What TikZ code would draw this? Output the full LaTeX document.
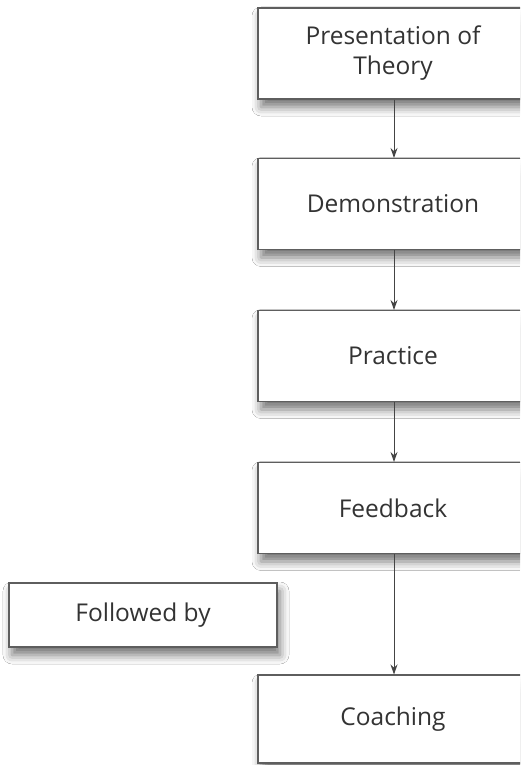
\documentclass[tikz,border=0pt]{standalone}
\usepackage{fontspec}
\setmainfont{Open Sans}
\usetikzlibrary{arrows.meta,shadows.blur}
\definecolor{boxgray}{HTML}{5E5E5E}
\definecolor{textgray}{HTML}{333333}
\definecolor{arrowgray}{HTML}{444444}
\begin{document}
\begin{tikzpicture}[x=1pt,y=-1pt,
  stepbox/.style={draw=boxgray, line width=1.1pt, fill=white,
    minimum width=270pt, minimum height=91pt, inner sep=0pt,
    align=center, text=textgray, font=\fontsize{24.5}{30}\selectfont,
    blur shadow={shadow xshift=3pt, shadow yshift=-8pt,
      shadow blur radius=9pt, shadow opacity=55}},
  flow/.style={draw=arrowgray, line width=1pt,
    -{Stealth[length=10pt,width=7pt]}}]
\useasboundingbox (0,0) rectangle (520,765);
\clip (0,0) rectangle (520,765);
\fill[white] (0,0) rectangle (520,765);

% the chain of steps
\node[stepbox] (theory) at (393,53.5) {Presentation of\\Theory};
\node[stepbox] (demo)   at (393,204)  {Demonstration};
\node[stepbox] (prac)   at (393,356)  {Practice};
\node[stepbox] (feed)   at (393,508)  {Feedback};
\node[stepbox, minimum height=88pt] (coach) at (393,719) {Coaching};

% side label
\node[stepbox, minimum width=268pt, minimum height=64pt] (follow) at (143,615) {Followed by};

% connectors
\draw[flow] ([xshift=1pt]theory.south) -- ([xshift=1pt]demo.north);
\draw[flow] ([xshift=1pt]demo.south) -- ([xshift=1pt]prac.north);
\draw[flow] ([xshift=1pt]prac.south) -- ([xshift=1pt]feed.north);
\draw[flow] ([xshift=1pt]feed.south) -- ([xshift=1pt]coach.north);
\end{tikzpicture}
\end{document}
